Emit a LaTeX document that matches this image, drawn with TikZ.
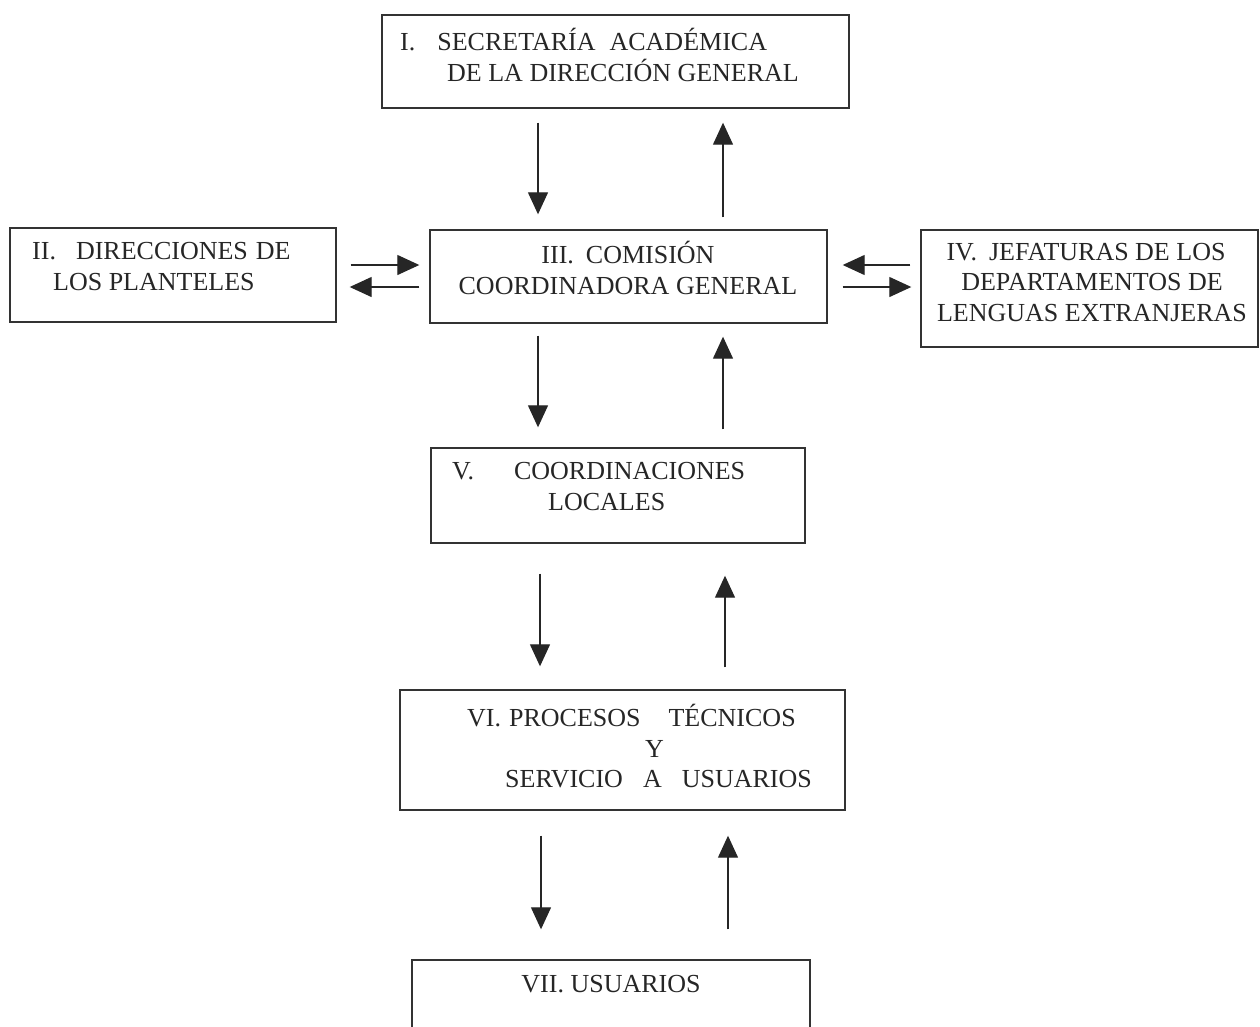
\documentclass[tikz,border=0pt]{standalone}
\usepackage{fontspec}
\setmainfont{Liberation Serif}
\usepackage{tikz}
\usetikzlibrary{arrows.meta,positioning,calc}

\begin{document}
\begin{tikzpicture}[x=1pt,y=-1pt]
		\tikzstyle{Box}		= [rectangle, draw=black!80, line width=1.4pt, inner sep=0pt]
		\tikzstyle{Label}	= [inner sep=0pt, text=black!85, font=\fontsize{26}{30.5}\selectfont]
		\tikzstyle{Flow}	= [line width=1.3pt, black!85, -{Triangle[length=22pt,width=20pt]}]

		\useasboundingbox (0,0) rectangle (1260,1026);
		\clip (0,0) rectangle (1260,1026);

		% boxes
		\node (sec) at (615.5,61.5)  [Box, minimum width=467pt, minimum height=93pt] {};
		\node (dir) at (173,275)     [Box, minimum width=326pt, minimum height=94pt] {};
		\node (com) at (628.5,276.5) [Box, minimum width=397pt, minimum height=93pt] {};
		\node (jef) at (1089.5,288.5)[Box, minimum width=337pt, minimum height=117pt] {};
		\node (loc) at (618,495.5)   [Box, minimum width=374pt, minimum height=95pt] {};
		\node (pro) at (622.5,750)   [Box, minimum width=445pt, minimum height=120pt] {};
		\node (usu) at (611,1010)    [Box, minimum width=398pt, minimum height=100pt] {};

		% texts
		\node (secT) at (400,55)   [Label, anchor=west, align=left] {I.\hspace{22pt}SECRETARÍA\hspace{14pt}ACADÉMICA\\\hspace*{47pt}DE LA DIRECCIÓN GENERAL};
		\node (dirT) at (32,266.5) [Label, anchor=west, align=left] {II.\hspace{20pt}DIRECCIONES\hspace{8pt}DE\\\hspace*{21pt}LOS PLANTELES};
		\node (comT) at (628,268)  [Label, align=center] {III.\hspace{12pt}COMISIÓN\\COORDINADORA GENERAL};
		\node (jefT) at (1092,282.5)[Label, align=center] {IV.\hspace{12pt}JEFATURAS DE LOS\hspace*{12pt}\\DEPARTAMENTOS DE\\LENGUAS EXTRANJERAS};
		\node (locT) at (452,486.5)[Label, anchor=west, align=left] {V.\hspace{40pt}COORDINACIONES\\\hspace*{96pt}LOCALES};
		\node (proT) at (467,746.5)[Label, anchor=west, align=left] {VI.\hspace{8pt}PROCESOS\hspace{28pt}TÉCNICOS\\\hspace*{178pt}Y\\\hspace*{38pt}SERVICIO\hspace{20pt}A\hspace{20pt}USUARIOS};
		\node (usuT) at (611,984)  [Label] {VII. USUARIOS};

		% arrow columns and rows
		\coordinate (d1) at (538,0);
		\coordinate (u1) at (723,0);
		\coordinate (d2) at (538,0);
		\coordinate (u2) at (723,0);
		\coordinate (d3) at (540,0);
		\coordinate (u3) at (725,0);
		\coordinate (d4) at (541,0);
		\coordinate (u4) at (728,0);
		\coordinate (r1) at (0,265);
		\coordinate (r2) at (0,287);

		\draw [Flow, shorten <=14pt, shorten >=15pt] (sec.south -| d1) to (com.north -| d1);
		\draw [Flow, shorten <=12pt, shorten >=14pt] (com.north -| u1) to (sec.south -| u1);
		\draw [Flow, shorten <=12pt, shorten >=20pt] (com.south -| d2) to (loc.north -| d2);
		\draw [Flow, shorten <=18pt, shorten >=13pt] (loc.north -| u2) to (com.south -| u2);
		\draw [Flow, shorten <=30pt, shorten >=23pt] (loc.south -| d3) to (pro.north -| d3);
		\draw [Flow, shorten <=22pt, shorten >=32pt] (pro.north -| u3) to (loc.south -| u3);
		\draw [Flow, shorten <=25pt, shorten >=30pt] (pro.south -| d4) to (usu.north -| d4);
		\draw [Flow, shorten <=30pt, shorten >=25pt] (usu.north -| u4) to (pro.south -| u4);

		\draw [Flow, shorten <=14pt, shorten >=10pt] (dir.east |- r1) to (com.west |- r1);
		\draw [Flow, shorten <=10pt, shorten >=13pt] (com.west |- r2) to (dir.east |- r2);
		\draw [Flow, shorten <=10pt, shorten >=15pt] (jef.west |- r1) to (com.east |- r1);
		\draw [Flow, shorten <=15pt, shorten >=9pt]  (com.east |- r2) to (jef.west |- r2);
	\end{tikzpicture}
\end{document}
